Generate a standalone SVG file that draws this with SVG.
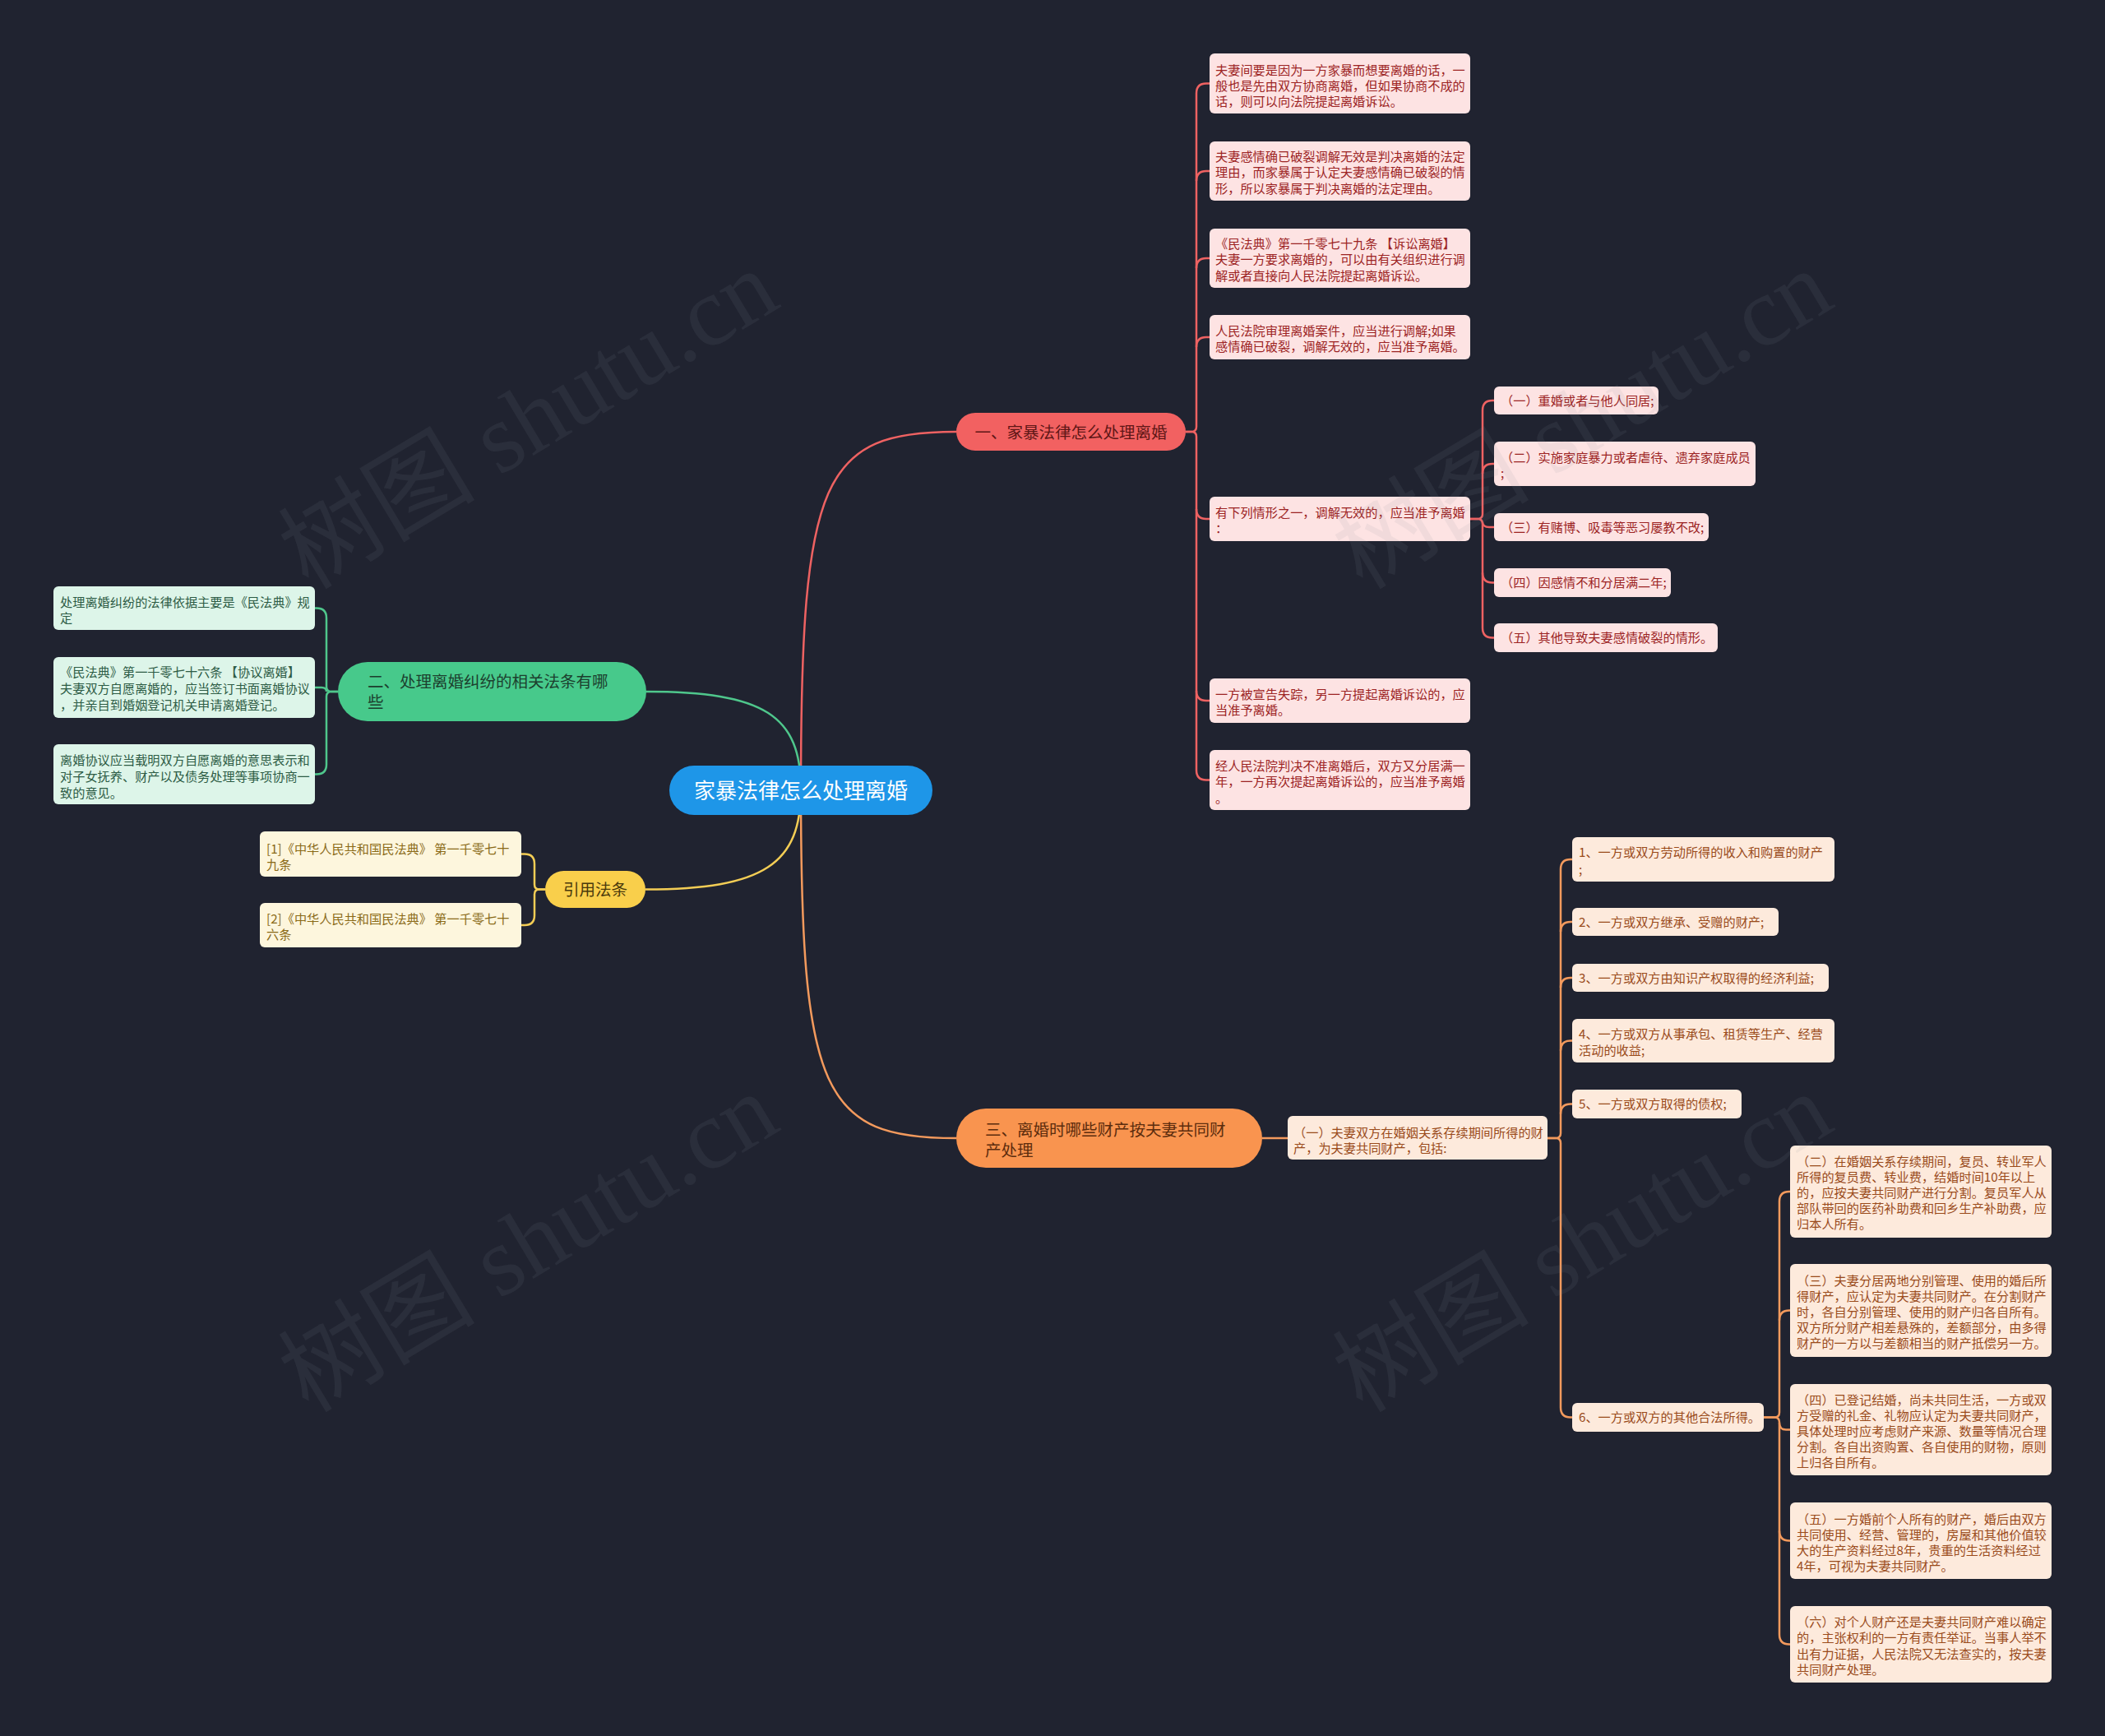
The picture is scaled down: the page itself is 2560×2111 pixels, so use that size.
<svg xmlns="http://www.w3.org/2000/svg" width="2560" height="2111" viewBox="0 0 2560 2111">
<style>
text{font-family:"Noto Sans CJK SC","Noto Sans",sans-serif;}
.lf{font-size:15.2px;}
.mn{font-size:19.5px;}
.cr{stroke:#ee6262;stroke-width:2.5;fill:none;}
.cg{stroke:#4fc78c;stroke-width:2.5;fill:none;}
.cy{stroke:#f3cd55;stroke-width:2.5;fill:none;}
.co{stroke:#f39a5d;stroke-width:2.5;fill:none;}
.rl{fill:#fde3e3;} .rt{fill:#9c2323;}
.gl{fill:#ddf5e9;} .gt{fill:#2d5c45;}
.yl{fill:#fdf6dd;} .yt{fill:#8a6a17;}
.ol{fill:#fdeadc;} .ot{fill:#9a4b1b;}
.wm{font-family:"Liberation Serif","Noto Sans CJK SC",serif;font-size:120px;fill:#8a90a0;fill-opacity:0.1;}
</style>
<rect x="0" y="0" width="2560" height="2111" fill="#202330"/>

<g id="connectors">
  <path class="cr" d="M974,960 C974,580 1000,525 1163,525"/>
  <path class="cg" d="M974,960 C974,870 930,841 785,841"/>
  <path class="cy" d="M974,960 C974,1050 930,1081.5 785,1081.5"/>
  <path class="co" d="M974,960 C974,1330 1000,1384 1163,1384"/>
  <path class="cr" d="M1442,525 L1449,525 Q1455,525 1455,519 V113.5 Q1455,101.5 1467,101.5 H1471"/>
  <path class="cr" d="M1455,220 Q1455,208 1467,208 H1471"/>
  <path class="cr" d="M1455,326 Q1455,314 1467,314 H1471"/>
  <path class="cr" d="M1455,422 Q1455,410 1467,410 H1471"/>
  <path class="cr" d="M1442,525 L1449,525 Q1455,525 1455,531 V936.5 Q1455,948.5 1467,948.5 H1471"/>
  <path class="cr" d="M1455,619 Q1455,631 1467,631 H1471"/>
  <path class="cr" d="M1455,840 Q1455,852 1467,852 H1471"/>
  <path class="cr" d="M1788,631 L1797,631 Q1803,631 1803,625 V499 Q1803,487 1815,487 H1817"/>
  <path class="cr" d="M1803,576 Q1803,564 1815,564 H1817"/>
  <path class="cr" d="M1788,631 L1797,631 Q1803,631 1803,637 V763.5 Q1803,775.5 1815,775.5 H1817"/>
  <path class="cr" d="M1803,635 Q1803,641 1811,641 H1817"/>
  <path class="cr" d="M1803,696.5 Q1803,708.5 1815,708.5 H1817"/>
  <path class="cg" d="M411,841 L403,841 Q397,841 397,835 V751.5 Q397,739.5 385,739.5 H383"/>
  <path class="cg" d="M397,841 Q397,836 391,836 H383"/>
  <path class="cg" d="M411,841 L403,841 Q397,841 397,847 V929.5 Q397,941.5 385,941.5 H383"/>
  <path class="cy" d="M663,1081.5 L656,1081.5 Q650,1081.5 650,1075.5 V1050.5 Q650,1038.5 638,1038.5 H634"/>
  <path class="cy" d="M663,1081.5 L656,1081.5 Q650,1081.5 650,1087.5 V1113 Q650,1125 638,1125 H634"/>
  <path class="co" d="M1535,1384 H1566"/>
  <path class="co" d="M1882,1384 L1892,1384 Q1898,1384 1898,1378 V1057 Q1898,1045 1910,1045 H1912"/>
  <path class="co" d="M1898,1133 Q1898,1121 1910,1121 H1912"/>
  <path class="co" d="M1898,1201 Q1898,1189 1910,1189 H1912"/>
  <path class="co" d="M1898,1277.5 Q1898,1265.5 1910,1265.5 H1912"/>
  <path class="co" d="M1898,1354.5 Q1898,1342.5 1910,1342.5 H1912"/>
  <path class="co" d="M1882,1384 L1892,1384 Q1898,1384 1898,1390 V1711.5 Q1898,1723.5 1910,1723.5 H1912"/>
  <path class="co" d="M2145,1723.5 L2158,1723.5 Q2164,1723.5 2164,1717.5 V1461 Q2164,1449 2176,1449 H2177"/>
  <path class="co" d="M2164,1605.5 Q2164,1593.5 2176,1593.5 H2177"/>
  <path class="co" d="M2145,1723.5 L2158,1723.5 Q2164,1723.5 2164,1729.5 V1987.5 Q2164,1999.5 2176,1999.5 H2177"/>
  <path class="co" d="M2164,1730.5 Q2164,1738.5 2172,1738.5 H2177"/>
  <path class="co" d="M2164,1861.5 Q2164,1873.5 2176,1873.5 H2177"/>
</g>

<g id="center">
  <rect x="814" y="931" width="320" height="60" rx="30" fill="#1e96e8"/>
  <text x="974" y="970.5" font-size="26" fill="#ffffff" text-anchor="middle">家暴法律怎么处理离婚</text>
</g>

<g id="main-red">
  <rect x="1163" y="502" width="279" height="46" rx="23" fill="#f26161"/>
  <text class="mn" x="1302.5" y="532.5" fill="#5e1616" text-anchor="middle">一、家暴法律怎么处理离婚</text>
</g>
<g id="main-green">
  <rect x="411" y="805" width="375" height="72" rx="36" fill="#47c98b"/>
  <text class="mn" x="447" y="835.5" fill="#1c3f2e">二、处理离婚纠纷的相关法条有哪</text>
  <text class="mn" x="447" y="860.5" fill="#1c3f2e">些</text>
</g>
<g id="main-yellow">
  <rect x="663" y="1059" width="122" height="45" rx="22.5" fill="#f9cf4b"/>
  <text class="mn" x="724" y="1089" fill="#4a3a0c" text-anchor="middle">引用法条</text>
</g>
<g id="main-orange">
  <rect x="1163" y="1348" width="372" height="72" rx="36" fill="#f9944f"/>
  <text class="mn" x="1198" y="1380.5" fill="#5c2c0d">三、离婚时哪些财产按夫妻共同财</text>
  <text class="mn" x="1198" y="1405.5" fill="#5c2c0d">产处理</text>
</g>

<g id="red-leaf-1">
  <rect class="rl" x="1471" y="65" width="317" height="73" rx="6"/>
  <text class="lf rt" x="1478" y="90.5">夫妻间要是因为一方家暴而想要离婚的话，一</text>
  <text class="lf rt" x="1478" y="109.5">般也是先由双方协商离婚，但如果协商不成的</text>
  <text class="lf rt" x="1478" y="128.5">话，则可以向法院提起离婚诉讼。</text>
</g>
<g id="red-leaf-2">
  <rect class="rl" x="1471" y="172" width="317" height="72" rx="6"/>
  <text class="lf rt" x="1478" y="195.5">夫妻感情确已破裂调解无效是判决离婚的法定</text>
  <text class="lf rt" x="1478" y="215">理由，而家暴属于认定夫妻感情确已破裂的情</text>
  <text class="lf rt" x="1478" y="234.5">形，所以家暴属于判决离婚的法定理由。</text>
</g>
<g id="red-leaf-3">
  <rect class="rl" x="1471" y="278" width="317" height="72" rx="6"/>
  <text class="lf rt" x="1478" y="301.5">《民法典》第一千零七十九条 【诉讼离婚】</text>
  <text class="lf rt" x="1478" y="321">夫妻一方要求离婚的，可以由有关组织进行调</text>
  <text class="lf rt" x="1478" y="340.5">解或者直接向人民法院提起离婚诉讼。</text>
</g>
<g id="red-leaf-4">
  <rect class="rl" x="1471" y="383" width="317" height="54" rx="6"/>
  <text class="lf rt" x="1478" y="407.5">人民法院审理离婚案件，应当进行调解;如果</text>
  <text class="lf rt" x="1478" y="427">感情确已破裂，调解无效的，应当准予离婚。</text>
</g>
<g id="red-leaf-5">
  <rect class="rl" x="1471" y="604" width="317" height="54" rx="6"/>
  <text class="lf rt" x="1478" y="628.5">有下列情形之一，调解无效的，应当准予离婚</text>
  <text class="lf rt" x="1478" y="648">：</text>
</g>
<g id="red-leaf-6">
  <rect class="rl" x="1471" y="825" width="317" height="54" rx="6"/>
  <text class="lf rt" x="1478" y="849.5">一方被宣告失踪，另一方提起离婚诉讼的，应</text>
  <text class="lf rt" x="1478" y="869">当准予离婚。</text>
</g>
<g id="red-leaf-7">
  <rect class="rl" x="1471" y="912" width="317" height="73" rx="6"/>
  <text class="lf rt" x="1478" y="936.5">经人民法院判决不准离婚后，双方又分居满一</text>
  <text class="lf rt" x="1478" y="956">年，一方再次提起离婚诉讼的，应当准予离婚</text>
  <text class="lf rt" x="1478" y="975.5">。</text>
</g>

<g id="red-sub-1">
  <rect class="rl" x="1817" y="470" width="200" height="34" rx="6"/>
  <text class="lf rt" x="1825" y="492.5">（一）重婚或者与他人同居;</text>
</g>
<g id="red-sub-2">
  <rect class="rl" x="1817" y="537" width="318" height="54" rx="6"/>
  <text class="lf rt" x="1825" y="561.5">（二）实施家庭暴力或者虐待、遗弃家庭成员</text>
  <text class="lf rt" x="1825" y="581">;</text>
</g>
<g id="red-sub-3">
  <rect class="rl" x="1817" y="624" width="261" height="34" rx="6"/>
  <text class="lf rt" x="1825" y="646.5">（三）有赌博、吸毒等恶习屡教不改;</text>
</g>
<g id="red-sub-4">
  <rect class="rl" x="1817" y="691" width="215" height="35" rx="6"/>
  <text class="lf rt" x="1825" y="714">（四）因感情不和分居满二年;</text>
</g>
<g id="red-sub-5">
  <rect class="rl" x="1817" y="758" width="272" height="35" rx="6"/>
  <text class="lf rt" x="1825" y="781">（五）其他导致夫妻感情破裂的情形。</text>
</g>

<g id="green-leaf-1">
  <rect class="gl" x="65" y="713" width="318" height="53" rx="6"/>
  <text class="lf gt" x="73" y="737.5">处理离婚纠纷的法律依据主要是《民法典》规</text>
  <text class="lf gt" x="73" y="756.5">定</text>
</g>
<g id="green-leaf-2">
  <rect class="gl" x="65" y="799" width="318" height="74" rx="6"/>
  <text class="lf gt" x="73" y="822.5">《民法典》第一千零七十六条 【协议离婚】</text>
  <text class="lf gt" x="73" y="842.5">夫妻双方自愿离婚的，应当签订书面离婚协议</text>
  <text class="lf gt" x="73" y="862.5">，并亲自到婚姻登记机关申请离婚登记。</text>
</g>
<g id="green-leaf-3">
  <rect class="gl" x="65" y="905" width="318" height="73" rx="6"/>
  <text class="lf gt" x="73" y="929.5">离婚协议应当载明双方自愿离婚的意思表示和</text>
  <text class="lf gt" x="73" y="949.5">对子女抚养、财产以及债务处理等事项协商一</text>
  <text class="lf gt" x="73" y="969.5">致的意见。</text>
</g>

<g id="yellow-leaf-1">
  <rect class="yl" x="316" y="1011" width="318" height="55" rx="6"/>
  <text class="lf yt" x="324" y="1037.5">[1]《中华人民共和国民法典》 第一千零七十</text>
  <text class="lf yt" x="324" y="1056.5">九条</text>
</g>
<g id="yellow-leaf-2">
  <rect class="yl" x="316" y="1098" width="318" height="54" rx="6"/>
  <text class="lf yt" x="324" y="1122.5">[2]《中华人民共和国民法典》 第一千零七十</text>
  <text class="lf yt" x="324" y="1141.5">六条</text>
</g>

<g id="orange-sub">
  <rect class="ol" x="1566" y="1357" width="316" height="53" rx="6"/>
  <text class="lf ot" x="1573" y="1382.5">（一）夫妻双方在婚姻关系存续期间所得的财</text>
  <text class="lf ot" x="1573" y="1401.5">产，为夫妻共同财产，包括:</text>
</g>
<g id="orange-item-1">
  <rect class="ol" x="1912" y="1018" width="319" height="54" rx="6"/>
  <text class="lf ot" x="1920" y="1041.5">1、一方或双方劳动所得的收入和购置的财产</text>
  <text class="lf ot" x="1920" y="1062.5">;</text>
</g>
<g id="orange-item-2">
  <rect class="ol" x="1912" y="1104" width="251" height="34" rx="6"/>
  <text class="lf ot" x="1920" y="1126.5">2、一方或双方继承、受赠的财产;</text>
</g>
<g id="orange-item-3">
  <rect class="ol" x="1912" y="1172" width="312" height="34" rx="6"/>
  <text class="lf ot" x="1920" y="1194.5">3、一方或双方由知识产权取得的经济利益;</text>
</g>
<g id="orange-item-4">
  <rect class="ol" x="1912" y="1239" width="319" height="53" rx="6"/>
  <text class="lf ot" x="1920" y="1262.5">4、一方或双方从事承包、租赁等生产、经营</text>
  <text class="lf ot" x="1920" y="1282.5">活动的收益;</text>
</g>
<g id="orange-item-5">
  <rect class="ol" x="1912" y="1325" width="206" height="35" rx="6"/>
  <text class="lf ot" x="1920" y="1348">5、一方或双方取得的债权;</text>
</g>
<g id="orange-item-6">
  <rect class="ol" x="1912" y="1706" width="233" height="35" rx="6"/>
  <text class="lf ot" x="1920" y="1729">6、一方或双方的其他合法所得。</text>
</g>

<g id="orange-detail-2">
  <rect class="ol" x="2177" y="1393" width="318" height="112" rx="6"/>
  <text class="lf ot" x="2185" y="1417.5">（二）在婚姻关系存续期间，复员、转业军人</text>
  <text class="lf ot" x="2185" y="1436.5">所得的复员费、转业费，结婚时间10年以上</text>
  <text class="lf ot" x="2185" y="1455.5">的，应按夫妻共同财产进行分割。复员军人从</text>
  <text class="lf ot" x="2185" y="1474.5">部队带回的医药补助费和回乡生产补助费，应</text>
  <text class="lf ot" x="2185" y="1493.5">归本人所有。</text>
</g>
<g id="orange-detail-3">
  <rect class="ol" x="2177" y="1537" width="318" height="113" rx="6"/>
  <text class="lf ot" x="2185" y="1562.5">（三）夫妻分居两地分别管理、使用的婚后所</text>
  <text class="lf ot" x="2185" y="1581.5">得财产，应认定为夫妻共同财产。在分割财产</text>
  <text class="lf ot" x="2185" y="1600.5">时，各自分别管理、使用的财产归各自所有。</text>
  <text class="lf ot" x="2185" y="1619.5">双方所分财产相差悬殊的，差额部分，由多得</text>
  <text class="lf ot" x="2185" y="1638.5">财产的一方以与差额相当的财产抵偿另一方。</text>
</g>
<g id="orange-detail-4">
  <rect class="ol" x="2177" y="1683" width="318" height="111" rx="6"/>
  <text class="lf ot" x="2185" y="1707.5">（四）已登记结婚，尚未共同生活，一方或双</text>
  <text class="lf ot" x="2185" y="1726.5">方受赠的礼金、礼物应认定为夫妻共同财产，</text>
  <text class="lf ot" x="2185" y="1745.5">具体处理时应考虑财产来源、数量等情况合理</text>
  <text class="lf ot" x="2185" y="1764.5">分割。各自出资购置、各自使用的财物，原则</text>
  <text class="lf ot" x="2185" y="1783.5">上归各自所有。</text>
</g>
<g id="orange-detail-5">
  <rect class="ol" x="2177" y="1827" width="318" height="93" rx="6"/>
  <text class="lf ot" x="2185" y="1852.5">（五）一方婚前个人所有的财产，婚后由双方</text>
  <text class="lf ot" x="2185" y="1871.5">共同使用、经营、管理的，房屋和其他价值较</text>
  <text class="lf ot" x="2185" y="1890.5">大的生产资料经过8年，贵重的生活资料经过</text>
  <text class="lf ot" x="2185" y="1909.5">4年，可视为夫妻共同财产。</text>
</g>
<g id="orange-detail-6">
  <rect class="ol" x="2177" y="1953" width="318" height="93" rx="6"/>
  <text class="lf ot" x="2185" y="1977.5">（六）对个人财产还是夫妻共同财产难以确定</text>
  <text class="lf ot" x="2185" y="1997">的，主张权利的一方有责任举证。当事人举不</text>
  <text class="lf ot" x="2185" y="2016.5">出有力证据，人民法院又无法查实的，按夫妻</text>
  <text class="lf ot" x="2185" y="2036">共同财产处理。</text>
</g>

<g id="watermarks">
  <text class="wm" x="645" y="550" text-anchor="middle" transform="rotate(-31 645 514)">树图 shutu.cn</text>
  <text class="wm" x="1927" y="550" text-anchor="middle" transform="rotate(-31 1927 514)">树图 shutu.cn</text>
  <text class="wm" x="645" y="1551" text-anchor="middle" transform="rotate(-31 645 1515)">树图 shutu.cn</text>
  <text class="wm" x="1927" y="1551" text-anchor="middle" transform="rotate(-31 1927 1515)">树图 shutu.cn</text>
</g>
</svg>
